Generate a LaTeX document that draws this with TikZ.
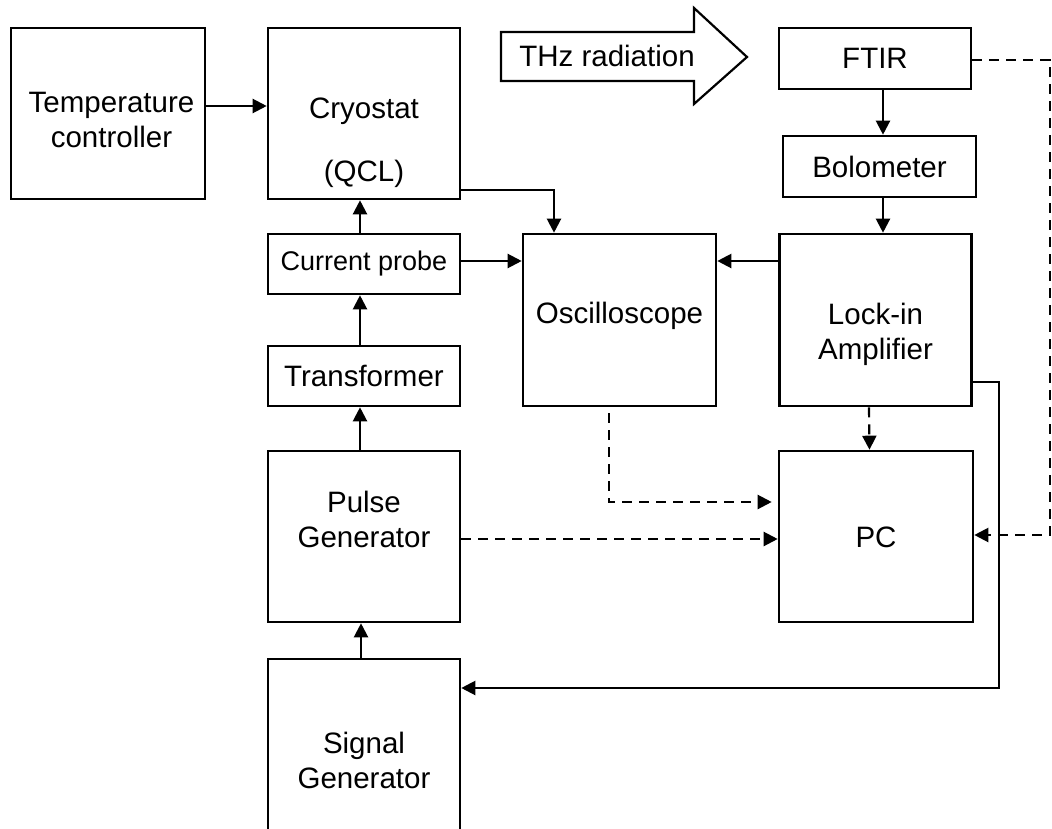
\documentclass[tikz,border=0pt]{standalone}
\usepackage{fontspec}
\setmainfont{Liberation Sans}
\usetikzlibrary{arrows.meta}
\newcommand\myfs{\fontsize{29.5}{35}\selectfont}
\begin{document}
\begin{tikzpicture}[x=1pt,y=-1pt,
  box/.style={draw,line width=2.6pt,inner sep=0pt,font=\myfs,align=center},
  txt/.style={inner sep=0pt,font=\myfs,align=center},
  arr/.style={line width=2.2pt,-{Triangle[length=14pt,width=14pt]}},
  plain/.style={line width=2.2pt},
  dsh/.style={line width=2.2pt,dash pattern=on 10pt off 7pt}]
\useasboundingbox (0,0) rectangle (1052,829);
\clip (0,0) rectangle (1052,829);
\fill[white] (0,0) rectangle (1052,829);
% boxes
\node[box,minimum width=194,minimum height=171] (temp) at (108,113.5) {};
\node[txt] (tempt) at (111.5,120) {Temperature\\controller};
\node[box,minimum width=192,minimum height=171] (cryo) at (364,113.5) {};
\node[txt] (cryot) at (364,143) {Cryostat\\[28pt](QCL)};
\node[box,minimum width=192,minimum height=60,font=\fontsize{27}{32}\selectfont] (probe) at (364,264) {Current probe};
\node[box,minimum width=192,minimum height=60] (trans) at (364,376) {Transformer};
\node[box,minimum width=192,minimum height=171] (pulse) at (364,536.5) {};
\node[txt] (pulset) at (364,519) {Pulse\\Generator};
\node[box,minimum width=192,minimum height=181] (sig) at (364,749.5) {};
\node[txt] (sigt) at (364,760) {Signal\\Generator};
\node[box,minimum width=193,minimum height=172] (osc) at (619.5,320) {};
\node[txt] (osct) at (619.5,316) {Oscilloscope};
\node[box,minimum width=192,minimum height=61] (ftir) at (875,58.5) {FTIR};
\node[box,minimum width=193,minimum height=61] (bolo) at (879.5,166.5) {Bolometer};
\node[box,minimum width=192,minimum height=172] (lockin) at (875.5,320) {};
\node[txt] (lockint) at (875.5,334) {Lock-in\\Amplifier};
\node[box,minimum width=194,minimum height=171] (pc) at (876,536.5) {};
\node[txt] (pct) at (876,537) {PC};
% THz arrow
\draw[line width=2.2pt,line join=miter] (501,32) -- (694,32) -- (694,8) -- (747,57) -- (694,104) -- (694,81) -- (501,81) -- cycle;
\node[txt] (thz) at (607,56) {THz radiation};
% solid connectors
\draw[arr] ([yshift=7.5pt]temp.east) -- ([yshift=7.5pt]cryo.west);
\draw[arr] ([xshift=-4pt]probe.north) -- ([xshift=-4pt]cryo.south);
\draw[arr] ([xshift=-4pt]trans.north) -- ([xshift=-4pt]probe.south);
\draw[arr] ([xshift=-4pt]pulse.north) -- ([xshift=-4pt]trans.south);
\draw[arr] ([xshift=-3pt]sig.north) -- ([xshift=-3pt]pulse.south);
\draw[arr] ([yshift=3pt]probe.east) -- ([yshift=59pt]osc.west);
\draw[arr] ([yshift=-76.5pt]cryo.east) -| ([xshift=-65.5pt]osc.north);
\draw[arr] ([yshift=59pt]lockin.west) -- ([yshift=59pt]osc.east);
\draw[arr] ([xshift=8pt]ftir.south) -- ([xshift=3.5pt]bolo.north);
\draw[arr] ([xshift=3.5pt]bolo.south) -- ([xshift=7.5pt]lockin.north);
\coordinate (lc) at (999,688);
\draw[arr] ([yshift=-62pt]lockin.east) -| (lc) -- (sig.east |- lc);
% dashed connectors
\draw[dsh,-{Triangle[length=14pt,width=14pt]}] ([xshift=-6.5pt]lockin.south) -- ([xshift=-6.5pt]pc.north);
\draw[dsh,-{Triangle[length=14pt,width=14pt]}] ([shift={(-10.5pt,-6pt)}]osc.south) |- ([shift={(-6pt,34.5pt)}]pc.west);
\draw[dsh,-{Triangle[length=14pt,width=14pt]}] ([yshift=-2.5pt]pulse.east) -- ([yshift=-2.5pt]pc.west);
\coordinate (fc) at (1050,60);
\draw[dsh,-{Triangle[length=14pt,width=14pt]}] ([yshift=-1.5pt]ftir.east) -- (fc) |- ([yshift=1.5pt]pc.east);
\end{tikzpicture}
\end{document}
